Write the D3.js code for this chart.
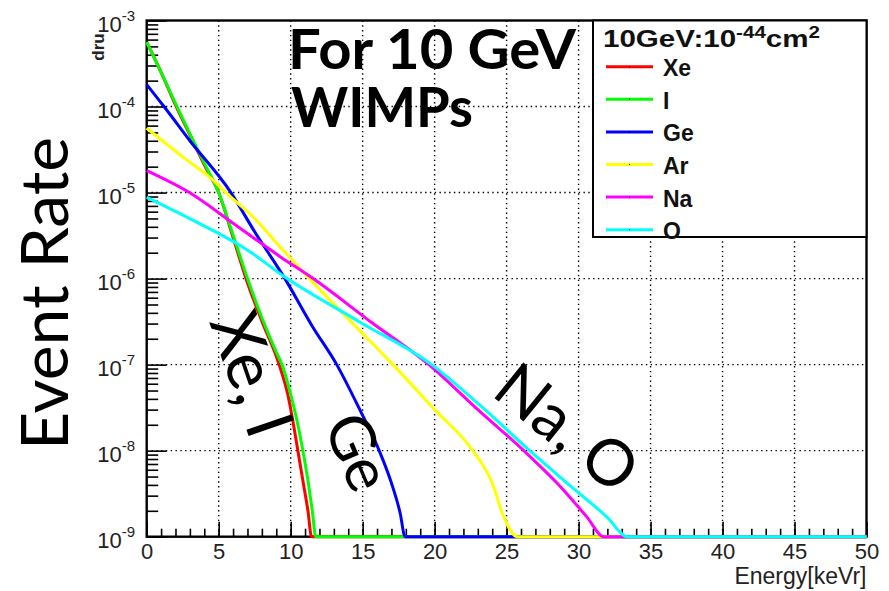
<!DOCTYPE html>
<html>
<head>
<meta charset="utf-8">
<script src="https://cdn.jsdelivr.net/npm/d3@7"></script>
<style>
  html, body { margin: 0; padding: 0; background: #fff; }
  svg { display: block; }
</style>
</head>
<body>
<svg id="chart" width="889" height="591"></svg>
<script>
// Differential WIMP event rate (dru) vs nuclear recoil energy, 10 GeV WIMP, sigma = 1e-44 cm^2.
// Each series: recoil energies (keVr) and rates; 0 means the bin is empty (above the kinematic cutoff).
const xeEnergy = [0, 1, 2.05, 3, 4, 5, 6, 7, 8, 9.2, 9.8, 10.2, 10.5, 10.9, 11.2, 11.45, 50];
const xeRate   = [5.6e-4, 2.5e-4, 1.0e-4, 4.7e-5, 2.1e-5, 1.0e-5, 3.0e-6, 8.9e-7, 3.2e-7, 1.0e-7, 4.5e-8, 2.0e-8, 1.0e-8, 4.0e-9, 2.0e-9, 1.0e-9, 0];

const iEnergy  = [0, 1, 2.1, 3, 4, 5, 6, 7, 8, 9, 9.4, 10, 10.5, 10.85, 11.2, 11.5, 11.75, 50];
const iRate    = [5.6e-4, 2.5e-4, 1.0e-4, 4.8e-5, 2.2e-5, 1.0e-5, 3.2e-6, 1.0e-6, 3.5e-7, 1.4e-7, 1.0e-7, 4.5e-8, 2.0e-8, 1.0e-8, 4.5e-9, 2.0e-9, 1.0e-9, 0];

const geEnergy = [0, 1.2, 3, 5.85, 7.5, 9.6, 11.5, 13.2, 14.8, 16.15, 17.0, 17.6, 17.95, 50];
const geRate   = [1.8e-4, 1.0e-4, 4.0e-5, 1.0e-5, 3.5e-6, 1.0e-6, 2.8e-7, 1.0e-7, 3.0e-8, 1.0e-8, 4.2e-9, 1.9e-9, 1.0e-9, 0];

const arEnergy = [0, 2.5, 4.6, 5.5, 7.5, 9.3, 11.3, 14, 17.1, 20, 22.65, 24.0, 24.8, 25.75, 50];
const arRate   = [5.6e-5, 2.6e-5, 1.4e-5, 1.0e-5, 5.0e-6, 2.3e-6, 1.0e-6, 3.4e-7, 1.0e-7, 3.0e-8, 1.0e-8, 4.2e-9, 1.7e-9, 1.0e-9, 0];

const naEnergy = [0, 2.97, 6, 9.27, 11.56, 15.5, 19.6, 23, 26.2, 28.5, 30.57, 31.75, 50];
const naRate   = [1.8e-5, 1.0e-5, 4.4e-6, 1.8e-6, 1.0e-6, 3.2e-7, 1.0e-7, 3.0e-8, 1.0e-8, 4.2e-9, 1.7e-9, 1.0e-9, 0];

const oEnergy  = [0, 3.5, 6.9, 9.75, 14.7, 19.8, 23.3, 26.6, 29.2, 31.96, 33.4, 50];
const oRate    = [8.8e-6, 4.5e-6, 2.2e-6, 1.0e-6, 3.2e-7, 1.0e-7, 3.2e-8, 1.0e-8, 4.2e-9, 1.7e-9, 1.0e-9, 0];

const seriesNames = ["Xe", "I", "Ge", "Ar", "Na", "O"];
const xTickValues = [0, 5, 10, 15, 20, 25, 30, 35, 40, 45, 50];
const yDecadeExponents = [-9, -8, -7, -6, -5, -4, -3];

const series = [
  { name: "Xe", e: xeEnergy, r: xeRate },
  { name: "I",  e: iEnergy,  r: iRate },
  { name: "Ge", e: geEnergy, r: geRate },
  { name: "Ar", e: arEnergy, r: arRate },
  { name: "Na", e: naEnergy, r: naRate },
  { name: "O",  e: oEnergy,  r: oRate }
];
const lineColor = { Xe: "#ff0000", I: "#00ff00", Ge: "#0000ff", Ar: "#ffff00", Na: "#ff00ff", O: "#00ffff" };

const svg = d3.select("#chart");
const plot = { left: 146.7, right: 866.5, top: 20.5, bottom: 536.7 };
const yMin = 1e-9, yMax = 1e-3;

const x = d3.scaleLinear().domain([0, 50]).range([plot.left, plot.right]);
const y = d3.scaleLog().domain([yMin, yMax]).range([plot.bottom, plot.top]);

const rootFont = "'Liberation Sans', Arial, Helvetica, sans-serif";
const slideFont = "Lato, 'Open Sans', sans-serif";

// dotted grid
const grid = svg.append("g").attr("stroke", "#000").attr("stroke-width", 1.4)
  .attr("stroke-dasharray", "1.4,3.4");
grid.selectAll("line.vx").data(xTickValues.slice(1, -1)).join("line")
  .attr("x1", d => x(d)).attr("x2", d => x(d))
  .attr("y1", plot.top).attr("y2", plot.bottom);
grid.selectAll("line.hy").data(yDecadeExponents.slice(1, -1)).join("line")
  .attr("x1", plot.left).attr("x2", plot.right)
  .attr("y1", d => y(Math.pow(10, d))).attr("y2", d => y(Math.pow(10, d)));

// axes: ticks point inward like a ROOT frame
const xMajor = d3.axisBottom(x).tickValues(xTickValues).tickSize(-15).tickSizeOuter(0).tickPadding(7);
const xMinor = d3.axisBottom(x).tickValues(d3.range(0, 51, 1)).tickSize(-8).tickSizeOuter(0).tickFormat("");

const gxMinor = svg.append("g").attr("transform", `translate(0,${plot.bottom})`).call(xMinor);
const gx = svg.append("g").attr("transform", `translate(0,${plot.bottom})`).call(xMajor);
[gx, gxMinor].forEach(g => {
  g.select(".domain").remove();
  g.selectAll(".tick line").attr("stroke", "#000").attr("stroke-width", 1.6);
});
gx.selectAll(".tick text")
  .attr("font-family", rootFont).attr("font-size", 22).attr("fill", "#222");

const minorY = [];
yDecadeExponents.slice(0, -1).forEach(p => {
  for (let k = 2; k <= 9; k++) minorY.push(k * Math.pow(10, p));
});
const yMajorAxis = d3.axisLeft(y).tickValues(yDecadeExponents.map(p => Math.pow(10, p)))
  .tickSize(-20).tickSizeOuter(0).tickFormat("");
const yMinorAxis = d3.axisLeft(y).tickValues(minorY).tickSize(-11.5).tickSizeOuter(0).tickFormat("");
const gyMinor = svg.append("g").attr("transform", `translate(${plot.left},0)`).call(yMinorAxis);
const gy = svg.append("g").attr("transform", `translate(${plot.left},0)`).call(yMajorAxis);
[gy, gyMinor].forEach(g => {
  g.select(".domain").remove();
  g.selectAll(".tick line").attr("stroke", "#000").attr("stroke-width", 1.6);
});

// y tick labels as 10^n
const yLabels = svg.append("g").attr("font-family", rootFont).attr("fill", "#222");
yDecadeExponents.forEach(p => {
  const t = yLabels.append("text")
    .attr("x", 135).attr("y", y(Math.pow(10, p)) + 11)
    .attr("text-anchor", "end").attr("font-size", 22);
  t.append("tspan").text("10");
  t.append("tspan").attr("dy", -11).attr("font-size", 15).text(String(p));
});

// frame
svg.append("rect")
  .attr("x", plot.left).attr("y", plot.top)
  .attr("width", plot.right - plot.left).attr("height", plot.bottom - plot.top)
  .attr("fill", "none").attr("stroke", "#000").attr("stroke-width", 2.4);

// curves, drawn over the frame so empty bins run along the bottom edge
const line = d3.line()
  .x(d => x(d[0]))
  .y(d => y(Math.max(d[1], yMin)))
  .curve(d3.curveMonotoneX);

const curves = svg.append("g");
series.forEach(s => {
  const pts = s.e.map((e, i) => [e, s.r[i]]);
  curves.append("path")
    .attr("d", line(pts))
    .attr("fill", "none")
    .attr("stroke", lineColor[s.name])
    .attr("stroke-width", 3)
    .attr("stroke-linejoin", "round");
});

// axis titles
svg.append("text")
  .attr("x", plot.right).attr("y", 584)
  .attr("text-anchor", "end")
  .attr("font-family", rootFont).attr("font-size", 23).attr("fill", "#222")
  .text("Energy[keVr]");

svg.append("text")
  .attr("transform", "translate(104,47) rotate(-90)")
  .attr("text-anchor", "middle")
  .attr("font-family", rootFont).attr("font-weight", "bold").attr("font-size", 17).attr("fill", "#222")
  .text("dru");

// legend
const lg = { x: 593, y: 20.5, w: 273.5, h: 216.5 };
const legend = svg.append("g");
legend.append("rect")
  .attr("x", lg.x).attr("y", lg.y).attr("width", lg.w).attr("height", lg.h)
  .attr("fill", "#fff").attr("stroke", "#000").attr("stroke-width", 2);

const title = legend.append("text")
  .attr("x", 603).attr("y", 47)
  .attr("font-family", rootFont).attr("font-weight", "bold").attr("font-size", 23).attr("fill", "#111")
  .attr("textLength", 217).attr("lengthAdjust", "spacingAndGlyphs");
title.append("tspan").text("10GeV:10");
title.append("tspan").attr("dy", -9).attr("font-size", 16).text("-44");
title.append("tspan").attr("dy", 9).text("cm");
title.append("tspan").attr("dy", -9).attr("font-size", 16).text("2");

const entryTop = 66.7, entryStep = 32.6;
seriesNames.forEach((name, i) => {
  const ly = entryTop + i * entryStep;
  legend.append("line")
    .attr("x1", 606).attr("x2", 653).attr("y1", ly).attr("y2", ly)
    .attr("stroke", lineColor[name]).attr("stroke-width", 3);
  legend.append("rect")
    .attr("x", 629).attr("y", ly - 0.5).attr("width", 1).attr("height", 1).attr("fill", "#000");
  legend.append("text")
    .attr("x", 663).attr("y", ly + 9.5)
    .attr("font-family", rootFont).attr("font-weight", "bold").attr("font-size", 23).attr("fill", "#111")
    .text(name);
});

// slide annotations
const notes = svg.append("g").attr("font-family", slideFont).attr("fill", "#000");
notes.append("text")
  .attr("transform", "translate(68,293.5) rotate(-90)")
  .attr("text-anchor", "middle").attr("font-size", 66)
  .attr("textLength", 313).attr("lengthAdjust", "spacingAndGlyphs")
  .text("Event Rate");

notes.append("text").attr("x", 288).attr("y", 69)
  .attr("font-size", 56).attr("font-weight", "bold")
  .attr("textLength", 288).attr("lengthAdjust", "spacingAndGlyphs")
  .text("For 10 GeV");
notes.append("text").attr("x", 291).attr("y", 127)
  .attr("font-size", 56).attr("font-weight", "bold")
  .attr("textLength", 182).attr("lengthAdjust", "spacingAndGlyphs")
  .text("WIMPs");

notes.append("text")
  .attr("transform", "translate(252,374) rotate(71)")
  .attr("text-anchor", "middle").attr("dy", "0.35em").attr("font-size", 67)
  .text("Xe, I");
notes.append("text")
  .attr("transform", "translate(358,452) rotate(67)")
  .attr("text-anchor", "middle").attr("dy", "0.35em").attr("font-size", 62)
  .text("Ge");
notes.append("text")
  .attr("transform", "translate(567,428) rotate(39)")
  .attr("text-anchor", "middle").attr("dy", "0.35em").attr("font-size", 64)
  .text("Na, O");
</script>
</body>
</html>
